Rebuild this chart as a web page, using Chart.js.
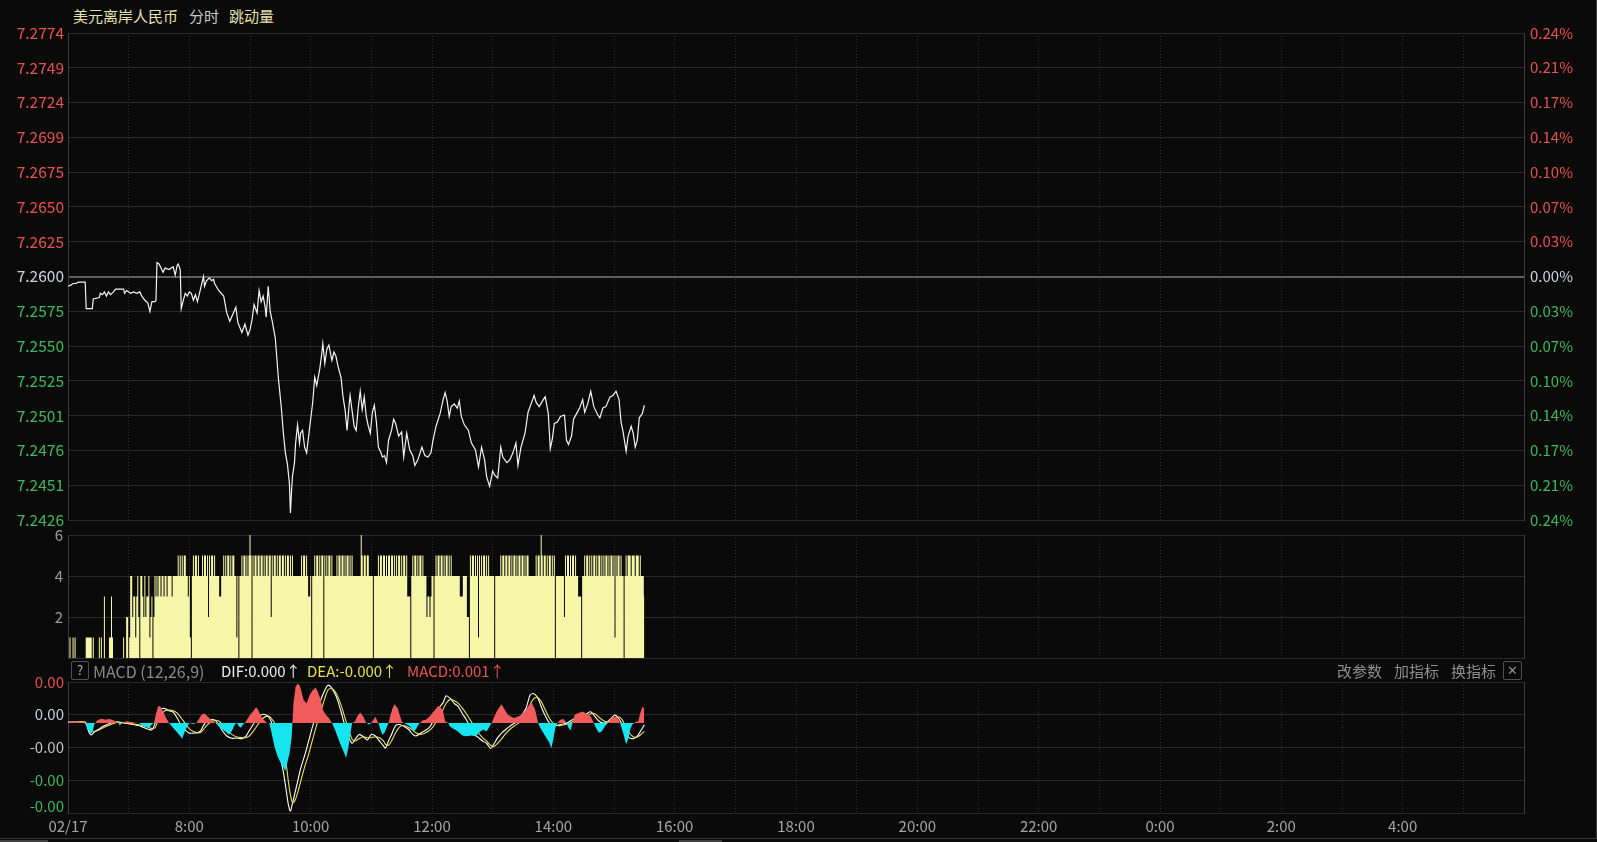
<!DOCTYPE html>
<html>
<head>
<meta charset="utf-8">
<script src="https://cdn.jsdelivr.net/npm/chart.js@4.4.0/dist/chart.umd.min.js"></script>
<style>
  html, body { margin: 0; padding: 0; background: #0a0a0a; width: 1597px; height: 842px; overflow: hidden;
    font-family: "Noto Sans CJK SC", "Noto Sans", sans-serif; }
  canvas { position: absolute; left: 0; }
  .t { position: absolute; font-size: 15px; line-height: 20px; white-space: nowrap; }
  .box { position: absolute; border: 1px solid #505050; border-radius: 2px; box-sizing: border-box;
    color: #b8b8b8; font-size: 13px; line-height: 16px; text-align: center; }
  #frame { position: absolute; left: 0; top: 0; width: 1597px; height: 839px; box-sizing: border-box;
    border-right: 1px solid #3a3a3a; border-bottom: 1px solid #3a3a3a; pointer-events: none; }
  .tab { position: absolute; top: 840px; height: 2px; background: #404040; }
</style>
</head>
<body>
<div class="t" style="left:73px;top:6px;color:#e6e0ae">美元离岸人民币</div>
<div class="t" style="left:189px;top:6px;color:#c8c8c8">分时</div>
<div class="t" style="left:229px;top:6px;color:#e6e0ae">跳动量</div>

<canvas id="price" width="1597" height="517" style="top:18px"></canvas>
<canvas id="volume" width="1597" height="152" style="top:520px"></canvas>
<canvas id="macd" width="1597" height="177" style="top:665px"></canvas>

<div class="box" style="left:71px;top:661px;width:18px;height:19px">?</div>
<div class="t" style="left:93px;top:661px;color:#8a8a8a;font-size:16px">MACD (12,26,9)</div>
<div class="t" style="left:221px;top:661px;color:#ececec">DIF:0.000↑</div>
<div class="t" style="left:307px;top:661px;color:#e8e04a">DEA:-0.000↑</div>
<div class="t" style="left:407px;top:661px;color:#ec5550">MACD:0.001↑</div>
<div class="t" style="left:1337px;top:661px;color:#8e8e8e">改参数</div>
<div class="t" style="left:1394px;top:661px;color:#8e8e8e">加指标</div>
<div class="t" style="left:1451px;top:661px;color:#8e8e8e">换指标</div>
<div class="box" style="left:1503px;top:661px;width:19px;height:19px;color:#909090">✕</div>
<div id="frame"></div>
<div class="tab" style="left:0;width:48px"></div>
<div class="tab" style="left:679px;width:43px"></div>

<script>
// ---- axis data ----
const PREV_CLOSE = 7.26;
const PRICE_MIN = 7.2426;
const PRICE_MAX = 7.2774;
const PRICE_TICK_COUNT = 15;
const X_LABELS = ['02/17', '8:00', '10:00', '12:00', '14:00', '16:00', '18:00', '20:00', '22:00', '0:00', '2:00', '4:00'];
const VOL_TICKS = [0, 2, 4, 6];
// MACD pane values are in units of 0.0001
const MACD_TICKS = [1.25, 0.25, -0.75, -1.75, -2.75];
const MACD_TICK_LABELS = ['0.00', '0.00', '-0.00', '-0.00', '-0.00'];

// ---- price line (minutes after 06:00, price) ----
const PRICE_T = [
  0, 3, 5, 8, 10, 17, 18, 24, 25, 31,
  32, 34, 36, 38, 40, 42, 45, 47, 50, 55,
  56, 58, 62, 65, 68, 71, 73, 76, 79, 81,
  83, 86, 87, 88, 90, 92, 94, 96, 100, 104,
  106, 108, 109, 111, 112, 114, 116, 118, 120, 122,
  124, 126, 128, 130, 134, 135, 137, 140, 142, 144,
  145, 149, 154, 157, 160, 163, 166, 168, 172, 175,
  178, 180, 182, 184, 187, 189, 191, 193, 195, 196,
  198, 200, 202, 205, 208, 211, 213, 215, 217, 219,
  220, 221, 222, 224, 225, 227, 229, 230, 232, 234,
  236, 238, 240, 242, 244, 246, 248, 249, 251, 252,
  254, 256, 258, 261, 263, 265, 267, 270, 272, 274,
  276, 278, 279, 281, 283, 285, 287, 289, 291, 293,
  295, 297, 299, 301, 303, 305, 307, 309, 311, 313,
  315, 317, 320, 322, 324, 327, 330, 332, 335, 338,
  341, 343, 346, 350, 353, 356, 359, 361, 364, 368,
  371, 373, 375, 377, 379, 382, 385, 387, 389, 392,
  396, 399, 403, 406, 409, 412, 414, 417, 420, 422,
  425, 428, 430, 434, 437, 440, 443, 445, 448, 452,
  455, 458, 461, 463, 466, 470, 472, 475, 477, 479,
  481, 484, 487, 491, 493, 495, 498, 500, 503, 506,
  509, 511, 514, 517, 520, 524, 526, 529, 532, 536,
  539, 542, 545, 547, 549, 552, 554, 557, 559, 561,
  563, 565, 568, 570
];
const PRICE = [
  7.2593, 7.2594, 7.2595, 7.2595, 7.2596, 7.2596, 7.2577, 7.2577, 7.2584, 7.2585,
  7.2588, 7.2587, 7.2589, 7.2586, 7.2589, 7.2587, 7.2589, 7.2591, 7.2591, 7.2591,
  7.2588, 7.2590, 7.2588, 7.2589, 7.2588, 7.2589, 7.2586, 7.2583, 7.2581, 7.2575,
  7.2582, 7.2582, 7.2583, 7.2610, 7.2609, 7.2606, 7.2603, 7.2606, 7.2605, 7.2607,
  7.2601, 7.2608, 7.2609, 7.2605, 7.2577, 7.2583, 7.2588, 7.2586, 7.2589, 7.2588,
  7.2583, 7.2587, 7.2582, 7.2588, 7.2600, 7.2593, 7.2597, 7.2599, 7.2597, 7.2598,
  7.2595, 7.2590, 7.2586, 7.2574, 7.2568, 7.2573, 7.2578, 7.2567, 7.2560, 7.2566,
  7.2558, 7.2562, 7.2569, 7.2580, 7.2574, 7.2590, 7.2582, 7.2586, 7.2578, 7.2571,
  7.2593, 7.2575, 7.2568, 7.2556, 7.2528, 7.2506, 7.2488, 7.2474, 7.2466, 7.2452,
  7.2431, 7.2446, 7.2457, 7.2467, 7.2480, 7.2494, 7.2481, 7.2488, 7.2490, 7.2478,
  7.2474, 7.2486, 7.2498, 7.2510, 7.2528, 7.2522, 7.2530, 7.2534, 7.2545, 7.2552,
  7.2538, 7.2548, 7.2551, 7.2540, 7.2546, 7.2543, 7.2536, 7.2528, 7.2514, 7.2505,
  7.2490, 7.2508, 7.2515, 7.2504, 7.2493, 7.2490, 7.2506, 7.2518, 7.2505, 7.2514,
  7.2500, 7.2493, 7.2488, 7.2503, 7.2508, 7.2496, 7.2478, 7.2475, 7.2471, 7.2472,
  7.2467, 7.2483, 7.2490, 7.2498, 7.2495, 7.2486, 7.2489, 7.2471, 7.2488, 7.2476,
  7.2472, 7.2465, 7.2469, 7.2478, 7.2472, 7.2471, 7.2474, 7.2483, 7.2493, 7.2502,
  7.2512, 7.2517, 7.2511, 7.2500, 7.2507, 7.2509, 7.2506, 7.2511, 7.2500, 7.2494,
  7.2490, 7.2481, 7.2476, 7.2464, 7.2478, 7.2469, 7.2457, 7.2450, 7.2461, 7.2458,
  7.2456, 7.2478, 7.2471, 7.2467, 7.2469, 7.2474, 7.2481, 7.2465, 7.2478, 7.2488,
  7.2503, 7.2509, 7.2515, 7.2510, 7.2507, 7.2512, 7.2514, 7.2502, 7.2477, 7.2484,
  7.2495, 7.2496, 7.2500, 7.2501, 7.2483, 7.2480, 7.2486, 7.2498, 7.2502, 7.2506,
  7.2512, 7.2503, 7.2509, 7.2518, 7.2507, 7.2501, 7.2499, 7.2506, 7.2507, 7.2514,
  7.2515, 7.2518, 7.2512, 7.2496, 7.2489, 7.2475, 7.2486, 7.2493, 7.2488, 7.2478,
  7.2483, 7.2499, 7.2502, 7.2508
];

// ---- tick volume, one value per minute from 06:00 ----
const VOLUME = [
  0,0,1,0,0,1,0,1,0,0,  0,0,0,0,0,0,0,0,1,1,  1,1,1,1,0,1,0,0,0,0,
  0,1,0,1,0,0,3,0,0,0,  0,1,1,3,1,0,0,0,0,0,  0,0,0,0,0,1,0,0,2,2,
  0,1,4,4,2,3,3,1,3,4,  2,0,4,4,3,2,4,2,3,3,  4,1,2,3,0,2,4,3,4,3,
  4,4,3,4,4,3,4,4,3,4,  4,4,4,3,4,4,4,4,4,5,  4,5,4,5,4,5,5,4,4,3,
  4,1,0,4,5,4,5,5,4,5,  4,4,4,5,4,5,5,4,5,2,  5,4,5,5,4,5,4,4,4,4,
  3,3,4,4,5,4,5,4,5,5,  4,5,4,5,5,4,4,1,4,0,  4,4,5,4,5,5,4,5,4,5,
  6,5,0,5,4,5,5,4,5,5,  4,5,5,4,5,4,5,5,4,5,  5,2,5,4,5,5,4,5,4,5,
  5,4,5,5,4,5,4,5,5,4,  5,4,5,4,4,4,4,4,4,4,  4,5,4,5,5,4,5,4,3,3,
  4,0,4,4,5,4,5,5,4,5,  4,5,5,0,5,4,5,4,5,5,  4,5,4,4,4,4,5,4,5,5,
  4,5,5,4,5,4,5,5,4,5,  4,5,4,4,4,4,4,4,4,4,  6,5,4,5,5,4,5,5,4,4,
  4,4,0,4,4,4,4,5,4,5,  5,4,5,5,4,5,4,5,5,4,  5,5,4,5,4,5,4,5,5,4,
  5,4,5,5,4,5,3,3,3,0,  4,5,4,5,5,4,5,4,5,5,  4,5,4,4,4,2,3,3,2,3,
  4,4,0,4,5,4,5,5,4,5,  5,4,5,4,5,5,4,5,4,5,  4,4,4,4,4,4,4,4,3,3,
  3,4,4,4,4,2,2,0,5,4,  5,5,4,5,4,5,1,5,4,5,  4,5,5,4,5,4,5,4,4,4,
  4,4,0,4,4,4,4,4,5,4,  5,5,4,5,5,4,5,5,4,5,  4,5,5,4,5,4,5,5,4,5,
  5,4,5,4,5,5,4,4,4,4,  4,4,4,5,4,5,5,4,6,5,  4,5,5,4,5,4,5,5,4,5,
  4,5,0,4,4,4,4,4,4,4,  4,2,5,4,5,5,4,5,4,5,  5,4,5,4,4,3,3,3,0,4,
  4,5,4,5,5,4,5,4,5,4,  5,5,4,5,4,5,5,4,5,4,  5,4,5,5,4,5,4,5,5,4,
  5,1,5,4,5,5,4,5,4,4,  0,4,5,4,5,5,5,4,5,5,  5,4,5,5,5,4,5,4,4,4,
  3
];

// ---- MACD histogram (minute, value) ----
const HIST_T = [
  0, 2, 6, 10, 14, 17, 19, 22, 24, 26, 27, 29, 33, 37, 41, 45, 48, 50, 51, 53,
  55, 58, 62, 66, 70, 72, 76, 80, 83, 85, 87, 89, 91, 94, 97, 100, 103, 107, 111, 113,
  115, 118, 120, 122, 124, 127, 129, 132, 135, 138, 141, 144, 146, 149, 153, 157, 159, 162, 165, 167,
  169, 171, 173, 175, 177, 180, 183, 186, 188, 191, 194, 197, 199, 201, 204, 207, 210, 213, 215, 217,
  219, 221, 222, 223, 225, 227, 229, 231, 233, 236, 239, 242, 245, 247, 250, 252, 255, 258, 261, 264,
  267, 270, 273, 275, 277, 279, 281, 284, 286, 289, 292, 295, 298, 300, 302, 304, 306, 307, 309, 311,
  313, 315, 317, 319, 321, 323, 326, 328, 330, 332, 335, 338, 340, 342, 344, 346, 348, 351, 354, 357,
  360, 363, 366, 369, 371, 373, 376, 378, 381, 384, 387, 390, 393, 396, 399, 402, 405, 408, 411, 414,
  417, 419, 421, 424, 427, 429, 432, 435, 438, 441, 444, 447, 450, 453, 456, 459, 462, 465, 467, 470,
  473, 476, 478, 480, 482, 484, 487, 490, 492, 493, 495, 497, 499, 501, 505, 509, 513, 517, 520, 523,
  525, 528, 531, 534, 537, 540, 543, 546, 549, 552, 554, 556, 558, 561, 564, 566, 568, 570
];
const HIST = [
  0, 0.03, 0.05, 0.04, 0.02, 0, -0.15, -0.33, -0.30, -0.05, 0, 0.08, 0.13, 0.10, 0.12, 0.08, 0.03, 0, -0.08, -0.02,
  0.02, 0.05, 0.03, 0.01, 0, -0.05, -0.12, -0.15, -0.05, 0, 0.25, 0.50, 0.52, 0.35, 0.15, 0, -0.12, -0.25, -0.40, -0.48,
  -0.30, -0.10, 0, -0.02, -0.03, 0, 0.10, 0.25, 0.29, 0.20, 0.12, 0.05, 0, -0.10, -0.20, -0.30, -0.36, -0.25, -0.05, 0,
  -0.10, -0.15, -0.05, 0, 0.10, 0.25, 0.35, 0.48, 0.40, 0.20, 0.08, 0, 0, -0.25, -0.70, -1.00, -1.20, -1.35, -1.47, -1.20,
  -0.95, -0.50, 0, 0.60, 1.10, 1.20, 1.15, 0.95, 0.70, 0.60, 0.85, 1.00, 1.08, 0.95, 0.70, 0.40, 0.25, 0.15, 0, -0.20,
  -0.45, -0.70, -0.90, -1.07, -0.80, -0.40, 0, 0.05, 0.20, 0.32, 0.20, 0, -0.05, 0, 0.10, 0.19, 0.05, 0, -0.20, -0.36,
  -0.30, -0.15, 0, 0.25, 0.45, 0.57, 0.45, 0.25, 0.05, 0, -0.05, -0.10, -0.18, -0.26, -0.20, -0.08, 0, 0.08, 0.10, 0.18,
  0.28, 0.40, 0.52, 0.45, 0.35, 0.05, 0, -0.12, -0.18, -0.22, -0.30, -0.38, -0.41, -0.40, -0.38, -0.41, -0.35, -0.25, -0.20, -0.26,
  -0.10, 0, 0.15, 0.35, 0.50, 0.56, 0.40, 0.25, 0.20, 0.15, 0.18, 0.22, 0.30, 0.40, 0.55, 0.60, 0.40, 0, -0.15, -0.30,
  -0.45, -0.60, -0.77, -0.50, -0.15, 0, 0.10, 0.12, 0.05, 0, -0.15, -0.23, 0, 0.25, 0.30, 0.35, 0.28, 0.20, 0, -0.20,
  -0.30, -0.25, -0.10, 0, 0.15, 0.20, 0.18, 0, -0.30, -0.65, -0.50, -0.20, -0.05, 0.03, 0.05, 0.30, 0.49, 0.45
];

// ---- DIF / DEA lines (minute, value) ----
const LINE_T = [
  0, 10, 17, 19, 21, 23, 26, 30, 35, 40, 45, 50, 55, 60, 65, 70, 75, 80, 83, 86,
  88, 90, 93, 96, 100, 104, 108, 112, 116, 120, 124, 128, 131, 134, 137, 141, 145, 149, 153, 157,
  162, 167, 172, 176, 180, 184, 188, 192, 196, 199, 201, 204, 207, 210, 213, 216, 218, 220, 222, 224,
  227, 230, 234, 238, 242, 246, 250, 254, 257, 260, 263, 266, 270, 274, 278, 281, 284, 288, 292, 296,
  300, 304, 308, 312, 314, 317, 320, 324, 328, 332, 337, 341, 344, 348, 352, 357, 361, 365, 368, 371,
  374, 378, 382, 386, 390, 394, 398, 402, 406, 410, 414, 418, 421, 425, 429, 433, 437, 441, 445, 449,
  453, 457, 460, 464, 468, 472, 476, 480, 484, 488, 493, 498, 503, 509, 513, 517, 521, 525, 529, 533,
  537, 541, 545, 548, 551, 555, 559, 563, 567, 570
];
const DIF = [
  0.02, 0.03, 0.02, -0.12, -0.30, -0.37, -0.28, -0.20, -0.10, -0.03, 0.02, 0.03, 0.00, -0.02, -0.05, -0.08, -0.14, -0.20, -0.21, -0.02,
  0.28, 0.40, 0.44, 0.44, 0.37, 0.33, 0.15, -0.08, -0.22, -0.31, -0.31, -0.30, -0.24, -0.08, 0.05, 0.10, 0.09, -0.05, -0.25, -0.40,
  -0.47, -0.46, -0.48, -0.40, -0.20, 0.00, 0.18, 0.26, 0.24, 0.15, 0.04, -0.25, -0.60, -1.05, -1.50, -2.10, -2.50, -2.69, -2.45, -2.20,
  -1.80, -1.40, -1.00, -0.55, -0.10, 0.30, 0.70, 1.00, 1.15, 1.10, 0.95, 0.75, 0.35, -0.10, -0.45, -0.62, -0.50, -0.35, -0.42, -0.52,
  -0.35, -0.40, -0.55, -0.70, -0.77, -0.55, -0.35, -0.08, -0.05, -0.10, -0.20, -0.35, -0.40, -0.33, -0.25, -0.15, 0.05, 0.30, 0.50, 0.62,
  0.83, 0.75, 0.60, 0.50, 0.28, 0.10, -0.15, -0.35, -0.45, -0.55, -0.62, -0.78, -0.65, -0.45, -0.30, -0.20, -0.10, -0.02, 0.05, 0.25,
  0.45, 0.85, 0.90, 0.80, 0.50, 0.22, 0.00, -0.09, -0.07, -0.04, -0.01, 0.08, 0.15, 0.19, 0.28, 0.34, 0.20, 0.06, 0.00, 0.02,
  0.14, 0.24, 0.12, -0.05, -0.28, -0.45, -0.48, -0.40, -0.21, -0.06
];
const DEA = [
  0.02, 0.02, 0.02, -0.05, -0.15, -0.22, -0.26, -0.22, -0.15, -0.08, -0.02, 0.02, 0.01, -0.01, -0.03, -0.06, -0.09, -0.14, -0.17, -0.15,
  -0.02, 0.12, 0.28, 0.38, 0.39, 0.37, 0.30, 0.15, -0.02, -0.18, -0.26, -0.30, -0.29, -0.20, -0.08, 0.02, 0.08, 0.06, -0.06, -0.20,
  -0.35, -0.43, -0.45, -0.45, -0.38, -0.22, -0.04, 0.12, 0.20, 0.20, 0.14, 0.02, -0.18, -0.45, -0.80, -1.30, -1.80, -2.20, -2.43, -2.40,
  -2.15, -1.80, -1.35, -0.95, -0.50, -0.05, 0.35, 0.75, 1.00, 1.05, 1.00, 0.85, 0.55, 0.15, -0.25, -0.50, -0.55, -0.48, -0.42, -0.45,
  -0.45, -0.42, -0.45, -0.55, -0.65, -0.68, -0.55, -0.30, -0.12, -0.08, -0.14, -0.22, -0.30, -0.35, -0.32, -0.24, -0.12, 0.08, 0.25, 0.42,
  0.60, 0.72, 0.68, 0.60, 0.45, 0.28, 0.08, -0.12, -0.30, -0.45, -0.55, -0.68, -0.72, -0.62, -0.48, -0.32, -0.20, -0.10, -0.02, 0.08,
  0.25, 0.55, 0.72, 0.78, 0.65, 0.40, 0.15, -0.02, -0.08, -0.07, -0.04, 0.02, 0.10, 0.17, 0.20, 0.28, 0.28, 0.18, 0.08, 0.03,
  0.08, 0.16, 0.18, 0.10, -0.08, -0.30, -0.42, -0.43, -0.34, -0.25
];

// ---- styling ----
const FAMILY = '"Noto Sans CJK SC", "Noto Sans", sans-serif';
const FONT = { family: FAMILY, size: 15 };
const UP = '#e8534f', DOWN = '#3dbb5c', FLAT = '#cfd3da';
const GRID = '#2a2a2a', VGRID = '#313131', FRAME = '#3c3c3c';
const MACD_TICK_COLORS = [UP, '#cdd0dc', '#c4c4c4', DOWN, DOWN];

const pts = (ts, vs) => ts.map((t, i) => ({ x: t, y: vs[i] }));
const isPrev = v => Math.abs(v - PREV_CLOSE) < 1e-7;
const priceColor = v => isPrev(v) ? FLAT : (v > PREV_CLOSE ? UP : DOWN);

function priceTicks(scale) {
  const step = (PRICE_MAX - PRICE_MIN) / (PRICE_TICK_COUNT - 1);
  scale.ticks = [];
  for (let k = 0; k < PRICE_TICK_COUNT; k++) {
    scale.ticks.push({ value: k === 7 ? PREV_CLOSE : PRICE_MIN + k * step });
  }
}

function timeAxis(showLabels) {
  return {
    type: 'linear', min: 0, max: 1440, offset: false,
    afterBuildTicks: s => { s.ticks = []; for (let v = 0; v <= 1440; v += 60) s.ticks.push({ value: v }); },
    afterFit: s => { if (showLabels) s.height = 29; },
    grid: { color: VGRID, drawTicks: false, tickLength: 0, offset: false },
    border: { display: false, dash: [1, 2] },
    ticks: {
      display: showLabels, autoSkip: false, maxRotation: 0, padding: 4,
      color: '#a6a6a6', font: FONT,
      callback: v => v % 120 === 0 ? (X_LABELS[v / 120] || '') : ''
    }
  };
}

// right-hand frame line for the lower panes
const rightFrame = {
  position: 'right', min: 0, max: 1,
  afterFit: s => { s.width = 73; },
  grid: { display: false, drawTicks: false, tickLength: 0 },
  border: { color: FRAME },
  ticks: { display: false }
};

const base = {
  responsive: false,
  animation: false,
  events: [],
  plugins: { legend: { display: false }, tooltip: { enabled: false } }
};

// ── Price pane ─────────────────────────────
new Chart(document.getElementById('price'), {
  type: 'line',
  data: {
    datasets: [{
      data: pts(PRICE_T, PRICE),
      borderColor: '#f4f4f4', borderWidth: 1.2, pointRadius: 0, tension: 0
    }]
  },
  options: {
    ...base,
    layout: { padding: { top: 15, bottom: 15 } },
    scales: {
      x: timeAxis(false),
      y: {
        position: 'left', min: PRICE_MIN, max: PRICE_MAX,
        afterBuildTicks: priceTicks,
        afterFit: s => { s.width = 68; },
        grid: {
          color: ctx => ctx.tick && isPrev(ctx.tick.value) ? '#5e5e5e' : GRID,
          lineWidth: ctx => ctx.tick && isPrev(ctx.tick.value) ? 2 : 1,
          drawTicks: false, tickLength: 0
        },
        border: { color: FRAME },
        ticks: {
          autoSkip: false, padding: 4, font: { family: FAMILY, size: 15.5 },
          color: ctx => priceColor(ctx.tick.value),
          callback: v => v.toFixed(4)
        }
      },
      yR: {
        position: 'right', min: PRICE_MIN, max: PRICE_MAX,
        afterBuildTicks: priceTicks,
        afterFit: s => { s.width = 73; },
        grid: { display: false, drawTicks: false, tickLength: 0 },
        border: { color: FRAME },
        ticks: {
          autoSkip: false, padding: 6, font: FONT,
          color: ctx => priceColor(ctx.tick.value),
          callback: v => (Math.abs(v - PREV_CLOSE) / PREV_CLOSE * 100).toFixed(2) + '%'
        }
      }
    }
  }
});

// ── Tick-volume pane ───────────────────────
// one-minute columns drawn as a single stepped fill so neighbouring columns leave no seams
new Chart(document.getElementById('volume'), {
  type: 'line',
  data: {
    datasets: [{
      data: VOLUME.map((v, i) => ({ x: i, y: v })),
      stepped: 'middle', borderWidth: 0, pointRadius: 0,
      backgroundColor: '#f6f6a9', fill: 'origin'
    }]
  },
  options: {
    ...base,
    layout: { padding: { top: 15, bottom: 14 } },
    scales: {
      x: timeAxis(false),
      y: {
        position: 'left', min: 0, max: 6,
        afterBuildTicks: s => { s.ticks = VOL_TICKS.map(v => ({ value: v })); },
        afterFit: s => { s.width = 68; },
        grid: { color: GRID, drawTicks: false, tickLength: 0 },
        border: { color: FRAME },
        ticks: { autoSkip: false, padding: 5, font: FONT, color: '#9c9c9c', callback: v => v === 0 ? '' : v }
      },
      yR: rightFrame
    }
  }
});

// ── MACD pane ──────────────────────────────
// y labels drawn by hand so the lowest one can sit inside the pane
const macdLabels = {
  id: 'macdLabels',
  afterDraw(chart) {
    const { ctx, chartArea, scales: { y } } = chart;
    ctx.save();
    ctx.font = `15px ${FAMILY}`;
    ctx.textAlign = 'right';
    ctx.textBaseline = 'middle';
    MACD_TICKS.forEach((v, i) => {
      const py = Math.min(y.getPixelForValue(v), chartArea.bottom - 7);
      ctx.fillStyle = MACD_TICK_COLORS[i];
      ctx.fillText(MACD_TICK_LABELS[i], chartArea.left - 4, py);
    });
    ctx.restore();
  }
};

new Chart(document.getElementById('macd'), {
  type: 'line',
  data: {
    datasets: [
      {
        data: pts(HIST_T, HIST), borderWidth: 0, pointRadius: 0, tension: 0,
        fill: { target: 'origin', above: '#f25b5b', below: '#16e4ee' }
      },
      { data: pts(LINE_T, DEA), borderColor: '#ece05a', borderWidth: 1.1, pointRadius: 0, tension: 0.3 },
      { data: pts(LINE_T, DIF), borderColor: '#ffffff', borderWidth: 1.1, pointRadius: 0, tension: 0.3 }
    ]
  },
  options: {
    ...base,
    layout: { padding: { top: 17, bottom: 0 } },
    scales: {
      x: timeAxis(true),
      y: {
        position: 'left', min: MACD_TICKS[MACD_TICKS.length - 1], max: MACD_TICKS[0],
        afterBuildTicks: s => { s.ticks = MACD_TICKS.map(v => ({ value: v })); },
        afterFit: s => { s.width = 68; },
        grid: { color: GRID, drawTicks: false, tickLength: 0 },
        border: { color: FRAME },
        ticks: { display: false }
      },
      yR: rightFrame
    }
  },
  plugins: [macdLabels]
});
</script>
</body>
</html>
